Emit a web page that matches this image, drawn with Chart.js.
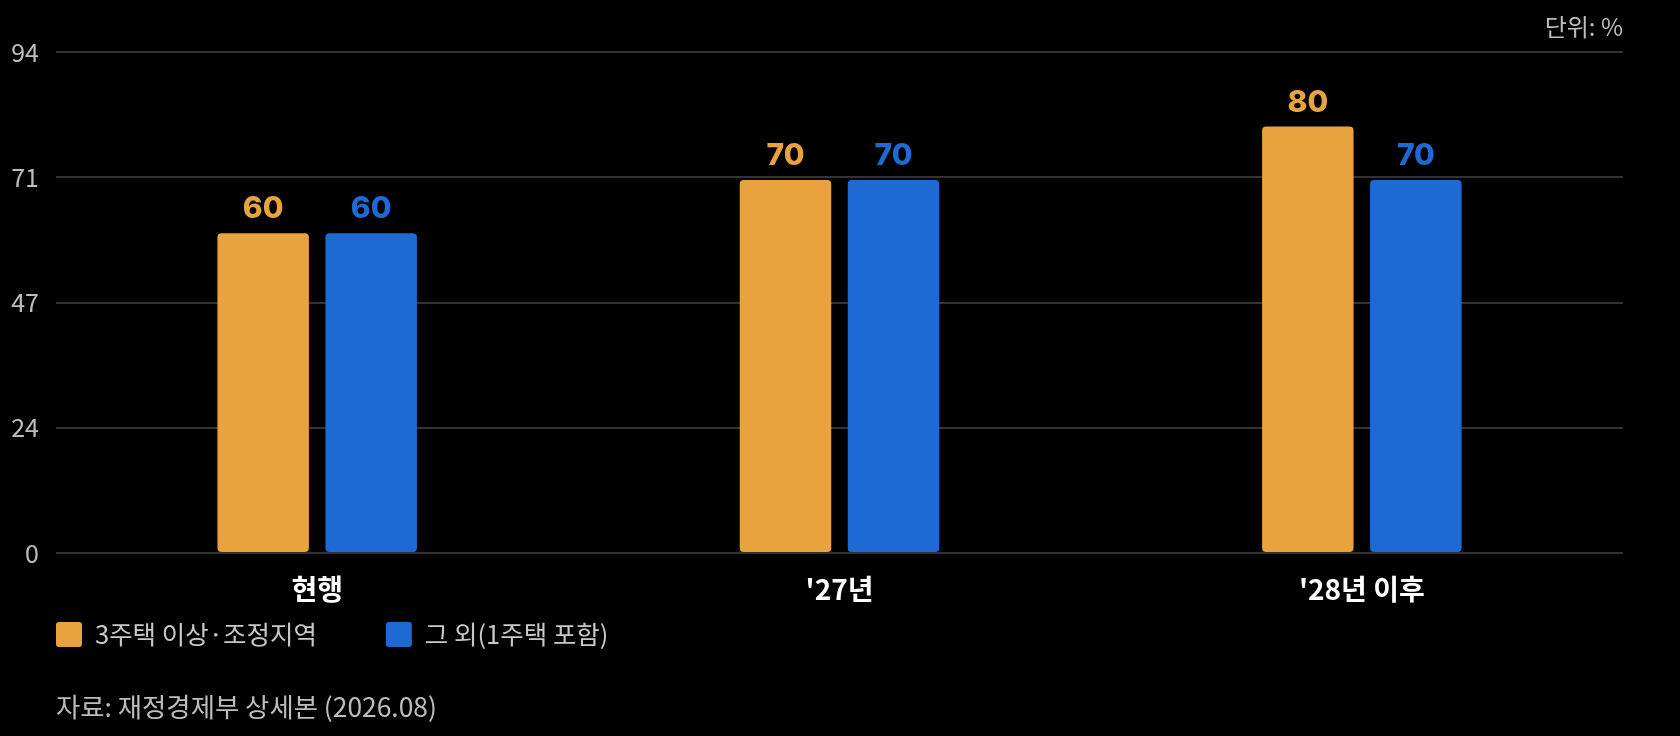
<!DOCTYPE html>
<html>
<head>
<meta charset="utf-8">
<script src="https://cdn.jsdelivr.net/npm/chart.js@4"></script>
<style>
html,body{margin:0;padding:0;background:#000;}
#wrap{width:1680px;height:736px;position:relative;}
</style>
</head>
<body>
<div id="wrap"><canvas id="c"></canvas></div>
<script>
const categories = ['현행', "'27년", "'28년 이후"];
const seriesNames = ['3주택 이상·조정지역', '그 외(1주택 포함)'];
const seriesA = [60, 70, 80];
const seriesB = [60, 70, 70];
const yTickLabels = ['0', '24', '47', '71', '94'];
const unitText = '단위: %';
const sourceText = '자료: 재정경제부 상세본 (2026.08)';

const colors = ['#E8A33E', '#1D6AD4'];
const FONT = "'Noto Sans CJK KR', 'Noto Sans', sans-serif";
const NUMFONT = "Inter, 'Noto Sans', sans-serif";

const overlay = {
  id: 'overlay',
  afterDatasetsDraw(chart) {
    const ctx = chart.ctx;
    ctx.save();
    // value labels
    ctx.font = "800 30px " + NUMFONT;
    ctx.textAlign = 'center';
    ctx.textBaseline = 'middle';
    chart.data.datasets.forEach((ds, di) => {
      const meta = chart.getDatasetMeta(di);
      meta.data.forEach((bar, i) => {
        ctx.fillStyle = ds.backgroundColor;
        ctx.fillText(String(ds.data[i]), bar.x, bar.y - 24);
      });
    });
    // unit text
    ctx.font = "24px " + FONT;
    ctx.fillStyle = '#bdbdbd';
    ctx.textAlign = 'right';
    ctx.fillText(unitText, chart.chartArea.right, 27);
    // legend
    ctx.font = "25.5px " + FONT;
    ctx.textAlign = 'left';
    let x = chart.chartArea.left;
    const ly = 634.5;
    chart.data.datasets.forEach((ds) => {
      ctx.fillStyle = ds.backgroundColor;
      ctx.beginPath();
      ctx.roundRect(x, ly - 12.5, 26, 25, 3);
      ctx.fill();
      ctx.fillStyle = '#c8c8c8';
      ctx.fillText(ds.label, x + 39, ly);
      x += 39 + ctx.measureText(ds.label).width + 69;
    });
    // source
    ctx.font = "26.4px " + FONT;
    ctx.fillStyle = '#bdbdbd';
    ctx.fillText(sourceText, chart.chartArea.left, 707);
    ctx.restore();
  }
};

new Chart(document.getElementById('c'), {
  type: 'bar',
  data: {
    labels: categories,
    datasets: [
      { label: seriesNames[0], data: seriesA, backgroundColor: colors[0] },
      { label: seriesNames[1], data: seriesB, backgroundColor: colors[1] }
    ]
  },
  options: {
    responsive: true,
    maintainAspectRatio: false,
    animation: false,
    devicePixelRatio: 1,
    layout: { padding: { top: 52, right: 57, bottom: 123, left: 0 } },
    datasets: {
      bar: {
        categoryPercentage: 0.4136,
        barPercentage: 0.847,
        borderRadius: 4,
        borderSkipped: false
      }
    },
    plugins: {
      legend: { display: false },
      tooltip: { enabled: false },
      title: { display: false }
    },
    scales: {
      x: {
        grid: { display: false, drawTicks: false },
        border: { display: false },
        ticks: {
          color: '#ffffff',
          font: { family: FONT, size: 28, weight: 'bold' },
          padding: 20
        },
        afterFit(scale) { scale.height = 60; }
      },
      y: {
        min: 0,
        max: 94,
        grid: { color: '#333333', lineWidth: 2, drawTicks: false },
        border: { display: false },
        ticks: {
          stepSize: 23.5,
          color: '#bdbdbd',
          font: { family: FONT, size: 25 },
          padding: 17,
          callback: (v, i) => yTickLabels[i]
        },
        afterFit(scale) { scale.width = 56; }
      }
    }
  },
  plugins: [overlay]
});
</script>
</body>
</html>
